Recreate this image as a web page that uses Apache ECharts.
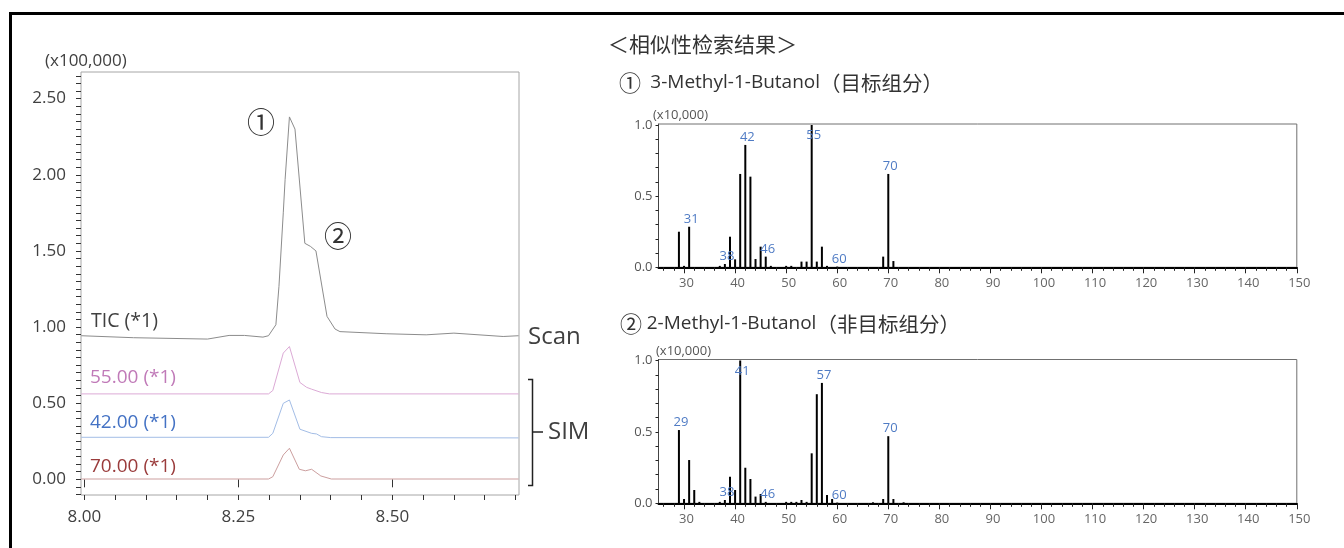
<!DOCTYPE html>
<html><head><meta charset="utf-8">
<script src="https://cdn.jsdelivr.net/npm/echarts@6/dist/echarts.min.js"></script>
<style>html,body{margin:0;padding:0;background:#fff}#c{width:1344px;height:548px}</style>
</head><body><div id="c"></div>
<script>
// ---- Chromatogram data (retention time, intensity x100,000) ----
const ticTime = [7.995, 8.08, 8.20, 8.235, 8.26, 8.29, 8.299, 8.311, 8.316, 8.323, 8.326, 8.333, 8.342, 8.358, 8.367, 8.376, 8.394, 8.407, 8.415, 8.49, 8.555, 8.60, 8.68, 8.705];
const ticVal  = [0.943, 0.930, 0.921, 0.945, 0.945, 0.934, 0.943, 1.015, 1.267, 1.75, 1.97, 2.38, 2.30, 1.55, 1.53, 1.50, 1.07, 0.987, 0.97, 0.956, 0.949, 0.96, 0.938, 0.943];
const sim55Time = [7.995, 8.299, 8.306, 8.323, 8.333, 8.350, 8.361, 8.369, 8.385, 8.398, 8.705];
const sim55Val  = [0.561, 0.561, 0.583, 0.829, 0.872, 0.636, 0.604, 0.592, 0.570, 0.561, 0.561];
const sim42Time = [7.995, 8.299, 8.306, 8.323, 8.333, 8.350, 8.369, 8.377, 8.385, 8.400, 8.705];
const sim42Val  = [0.276, 0.276, 0.302, 0.499, 0.521, 0.329, 0.302, 0.298, 0.280, 0.274, 0.272];
const sim70Time = [7.995, 8.299, 8.306, 8.323, 8.333, 8.349, 8.359, 8.369, 8.384, 8.401, 8.705];
const sim70Val  = [0.002, 0.002, 0.017, 0.160, 0.204, 0.066, 0.056, 0.066, 0.022, 0.002, 0.002];
const chromXTicks = [8.00, 8.25, 8.50];
const chromYTicks = [0.00, 0.50, 1.00, 1.50, 2.00, 2.50];

// ---- Mass spectra (m/z, relative intensity x10,000) ----
const spec1Mz  = [29, 30, 31, 37, 38, 39, 40, 41, 42, 43, 44, 45, 46, 47, 50, 51, 53, 54, 55, 56, 57, 58, 60, 69, 70, 71];
const spec1Int = [0.25, 0.01, 0.285, 0.01, 0.023, 0.215, 0.056, 0.656, 0.86, 0.637, 0.058, 0.145, 0.075, 0.01, 0.01, 0.01, 0.04, 0.04, 1.0, 0.04, 0.145, 0.01, 0.005, 0.075, 0.656, 0.044];
const spec1Labeled = [31, 38, 42, 46, 55, 60, 70];
const spec2Mz  = [29, 30, 31, 32, 33, 37, 38, 39, 40, 41, 42, 43, 44, 45, 46, 50, 51, 52, 53, 54, 55, 56, 57, 58, 59, 60, 67, 69, 70, 71, 73];
const spec2Int = [0.513, 0.03, 0.303, 0.093, 0.01, 0.01, 0.023, 0.186, 0.093, 1.0, 0.249, 0.17, 0.047, 0.065, 0.01, 0.01, 0.01, 0.01, 0.023, 0.01, 0.35, 0.764, 0.843, 0.058, 0.03, 0.005, 0.007, 0.03, 0.47, 0.03, 0.007];
const spec2Labeled = [29, 38, 41, 46, 57, 60, 70];
const specXTicks = [30, 40, 50, 60, 70, 80, 90, 100, 110, 120, 130, 140, 150];
const specYTicks = [0.0, 0.5, 1.0];

const FONT = "'Open Sans','Noto Sans CJK SC',sans-serif";
const CJK = "'Noto Sans CJK SC','Open Sans',sans-serif";
function zip(a, b) { return a.map((x, i) => [x, b[i]]); }
function steps(a, b, s) { const r = []; for (let v = a; v <= b + 1e-9; v += s) r.push(+v.toFixed(4)); return r; }

function specBars(mz, inten, labeled) {
  return mz.map((m, i) => {
    const item = { value: [m, inten[i]] };
    if (labeled.includes(m)) {
      item.label = {
        show: true, formatter: String(m),
        position: inten[i] >= 0.95 ? 'insideTop' : 'top',
        distance: inten[i] >= 0.95 ? 4 : 1,
        offset: [2, 0],
        color: '#4f7bc4', fontSize: 13, fontFamily: FONT
      };
    }
    return item;
  });
}

function specXAxes(gi) {
  return [{
    type: 'value', gridIndex: gi, min: 25, max: 150,
    axisLine: { show: true, onZero: false, lineStyle: { color: '#000', width: 2 } },
    axisTick: { show: true, customValues: specXTicks, length: 6, lineStyle: { color: '#222' } },
    axisLabel: { show: true, customValues: specXTicks, fontSize: 13, color: '#666', fontFamily: FONT, margin: 9, padding: [0, 0, 0, 5] },
    splitLine: { show: false }
  }, {
    type: 'value', gridIndex: gi, min: 25, max: 150, position: 'bottom',
    axisLine: { show: false },
    axisTick: { show: true, customValues: steps(26, 148, 2), length: 3.5, lineStyle: { color: '#222' } },
    axisLabel: { show: false }, splitLine: { show: false }
  }];
}
function specYAxis(gi) {
  return {
    type: 'value', gridIndex: gi, min: 0, max: 1.007,
    axisLine: { show: true, onZero: false, lineStyle: { color: '#444' } },
    axisTick: { show: true, customValues: steps(0, 1.0, 0.1), length: 3, lineStyle: { color: '#222' } },
    axisLabel: { show: true, customValues: specYTicks, formatter: v => v.toFixed(1), fontSize: 13, color: '#555', fontFamily: FONT, margin: 6 },
    splitLine: { show: false }
  };
}

function txt(text, x, y, size, color, opts) {
  return Object.assign({
    type: 'text', x: x, y: y, silent: true,
    style: { text: text, fill: color, font: size + 'px ' + FONT, textAlign: 'left', textVerticalAlign: 'middle' }
  }, opts || {});
}
function header(num, gap, name, note, x, y) {
  return {
    type: 'text', x: x, y: y, silent: true,
    style: {
      text: '{c|' + num + '}{g|' + gap + '}{a|' + name + '}{b|' + note + '}',
      textAlign: 'left', textVerticalAlign: 'middle', fill: '#333',
      rich: {
        c: { fontSize: 22, fontFamily: CJK, fill: '#333' },
        g: { fontSize: 18, fontFamily: FONT, fill: '#333' },
        a: { fontSize: 19, fontFamily: FONT, fill: '#333' },
        b: { fontSize: 20.5, fontFamily: CJK, fill: '#333' }
      }
    }
  };
}

const chart = echarts.init(document.getElementById('c'), null, { renderer: 'canvas' });
const lineSeries = (name, t, v, color) => ({
  name, type: 'line', xAxisIndex: 0, yAxisIndex: 0, data: zip(t, v),
  showSymbol: false, symbol: 'none', lineStyle: { width: 1, color }, itemStyle: { color }, animation: false
});

chart.setOption({
  backgroundColor: '#fff',
  animation: false,
  textStyle: { fontFamily: FONT },
  grid: [
    { left: 81, top: 72, width: 438, height: 423, show: true, borderColor: '#a6a6a6', borderWidth: 1, containLabel: false, outerBoundsMode: 'none' },
    { left: 658.5, top: 124, width: 638.3, height: 143.3, show: true, borderColor: '#707070', borderWidth: 1, containLabel: false, outerBoundsMode: 'none' },
    { left: 658.5, top: 359.5, width: 638.3, height: 143.8, show: true, borderColor: '#707070', borderWidth: 1, containLabel: false, outerBoundsMode: 'none' }
  ],
  xAxis: [
    {
      type: 'value', gridIndex: 0, min: 7.9946, max: 8.7057,
      axisLine: { show: false },
      axisTick: { show: true, customValues: chromXTicks, length: 8, lineStyle: { color: '#333' } },
      axisLabel: { show: true, customValues: chromXTicks, formatter: v => v.toFixed(2), fontSize: 17, color: '#404040', fontFamily: FONT, margin: 14 },
      splitLine: { show: false }
    },
    {
      type: 'value', gridIndex: 0, min: 7.9946, max: 8.7057, position: 'bottom',
      axisLine: { show: false },
      axisTick: { show: true, customValues: steps(8.0, 8.70, 0.05), length: 5, lineStyle: { color: '#333' } },
      axisLabel: { show: false }, splitLine: { show: false }
    },
    ...specXAxes(1),
    ...specXAxes(2)
  ],
  yAxis: [
    {
      type: 'value', gridIndex: 0, min: -0.103, max: 2.675,
      axisLine: { show: false },
      axisTick: { show: true, customValues: steps(-0.1, 2.65, 0.05), length: 5, lineStyle: { color: '#333' } },
      axisLabel: { show: true, customValues: chromYTicks, formatter: v => v.toFixed(2), fontSize: 17, color: '#404040', fontFamily: FONT, margin: 15 },
      splitLine: { show: false }
    },
    specYAxis(1),
    specYAxis(2)
  ],
  series: [
    lineSeries('TIC', ticTime, ticVal, '#8c8c8c'),
    lineSeries('55', sim55Time, sim55Val, '#dcaad6'),
    lineSeries('42', sim42Time, sim42Val, '#a3bde6'),
    lineSeries('70', sim70Time, sim70Val, '#cc9f9f'),
    { type: 'bar', xAxisIndex: 2, yAxisIndex: 1, barWidth: 2, itemStyle: { color: '#000' }, data: specBars(spec1Mz, spec1Int, spec1Labeled), animation: false },
    { type: 'bar', xAxisIndex: 4, yAxisIndex: 2, barWidth: 2, itemStyle: { color: '#000' }, data: specBars(spec2Mz, spec2Int, spec2Labeled), animation: false }
  ],
  graphic: [
    { type: 'rect', silent: true, shape: { x: 10.5, y: 13.5, width: 1400, height: 600 }, style: { fill: 'none', stroke: '#000', lineWidth: 3 } },
    txt('(x100,000)', 45, 61, 17, '#404040'),
    txt('TIC (*1)', 91, 321, 19.5, '#404040'),
    txt('55.00 (*1)', 90, 378, 19, '#c07ab8'),
    txt('42.00 (*1)', 90, 423, 19, '#4472c4'),
    txt('70.00 (*1)', 90, 467, 19, '#9a3b3b'),
    txt('Scan', 528, 337, 24, '#404040'),
    txt('SIM', 548, 432, 24, '#404040'),
    { type: 'polyline', silent: true, shape: { points: [[528, 379.5], [532.5, 379.5], [532.5, 485.5], [528, 485.5]] }, style: { stroke: '#222', lineWidth: 1.5, fill: 'none' } },
    { type: 'line', silent: true, shape: { x1: 532.5, y1: 432, x2: 543, y2: 432 }, style: { stroke: '#222', lineWidth: 1.5 } },
    { type: 'text', silent: true, x: 261, y: 122, style: { text: '①', fill: '#333', font: '28px ' + CJK, textAlign: 'center', textVerticalAlign: 'middle' } },
    { type: 'text', silent: true, x: 338, y: 236, style: { text: '②', fill: '#333', font: '28px ' + CJK, textAlign: 'center', textVerticalAlign: 'middle' } },
    { type: 'text', silent: true, x: 608, y: 44, style: { text: '＜相似性检索结果＞', fill: '#333', font: '21px ' + CJK, textAlign: 'left', textVerticalAlign: 'middle' } },
    header('①', '  ', '3-Methyl-1-Butanol', '（目标组分）', 619, 83),
    header('②', ' ', '2-Methyl-1-Butanol', '（非目标组分）', 620, 324),
    txt('(x10,000)', 653, 115, 13, '#555'),
    txt('(x10,000)', 656, 351, 13, '#555')
  ]
});
</script>
</body></html>
